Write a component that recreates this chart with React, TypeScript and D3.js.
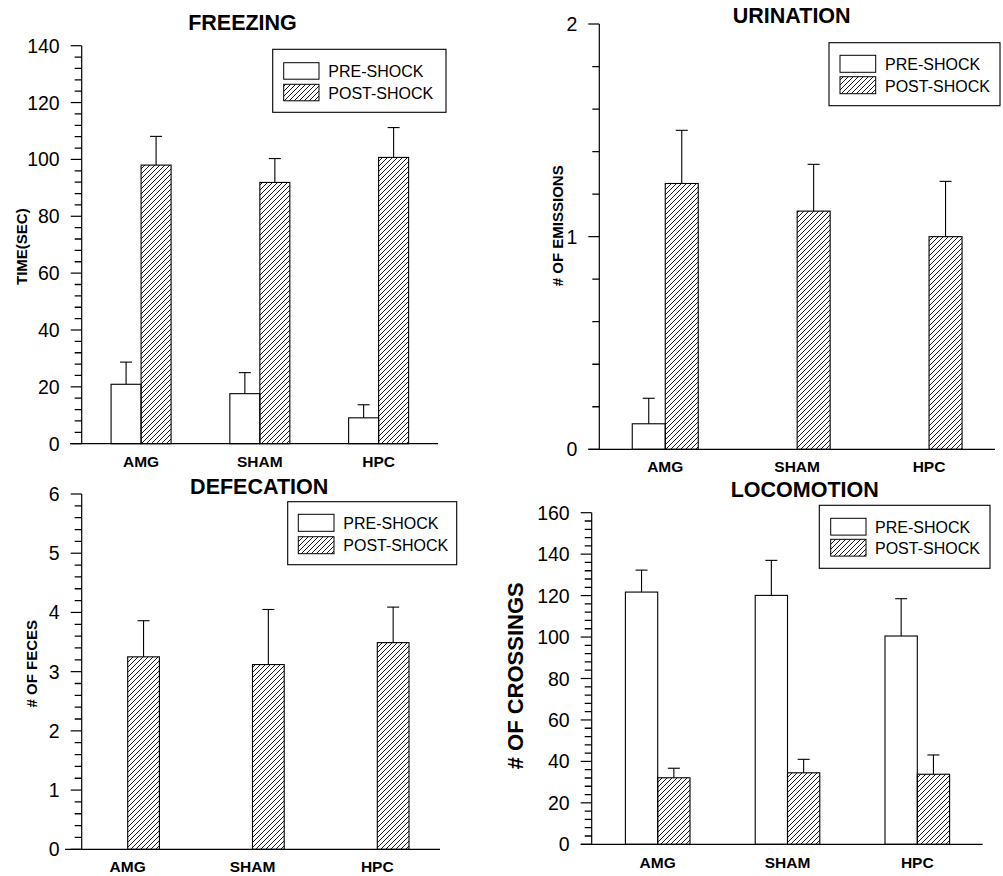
import React from "react";
import * as d3 from "d3";

const categories = ["AMG", "SHAM", "HPC"];
const seriesNames = ["PRE-SHOCK", "POST-SHOCK"];

const freezingPre = [20.9, 17.6, 9.1];
const freezingPreSem = [7.8, 7.4, 4.6];
const freezingPost = [98.0, 91.9, 100.7];
const freezingPostSem = [10.1, 8.4, 10.5];

const urinationPre = [0.12, 0, 0];
const urinationPreSem = [0.12, 0, 0];
const urinationPost = [1.25, 1.12, 1.0];
const urinationPostSem = [0.25, 0.22, 0.26];

const defecationPre = [0, 0, 0];
const defecationPreSem = [0, 0, 0];
const defecationPost = [3.25, 3.12, 3.49];
const defecationPostSem = [0.61, 0.93, 0.6];

const locomotionPre = [121.7, 120.1, 100.5];
const locomotionPreSem = [10.6, 16.9, 18.0];
const locomotionPost = [32.1, 34.5, 33.8];
const locomotionPostSem = [4.6, 6.5, 9.3];

const FONT = "'Liberation Sans', Arial, Helvetica, sans-serif";

type PanelCfg = {
  title: string;
  yLabel: string;
  pre: number[];
  preSem: number[];
  post: number[];
  postSem: number[];
  yMax: number;
  major: number;
  minor: number;
  axisX: number;
  yTop: number;
  yBottom: number;
  band: [number, number];
  xLine: [number, number];
  barW: number;
  titleX: number;
  titleY: number;
  yLabX: number;
  yLabY: number;
  yLabSize: number;
  xLabY: number;
  legend: { x0: number; y0: number; x1: number; y1: number; sx: number; sw: number; preY: number; postY: number; sh: number; tx: number; preB: number; postB: number };
};

const panels: PanelCfg[] = [
  {
    title: "FREEZING", yLabel: "TIME(SEC)",
    pre: freezingPre, preSem: freezingPreSem, post: freezingPost, postSem: freezingPostSem,
    yMax: 140, major: 20, minor: 4,
    axisX: 81.7, yTop: 45.7, yBottom: 443.7, band: [81.7, 438], xLine: [70, 438], barW: 30,
    titleX: 242.5, titleY: 30, yLabX: 26.7, yLabY: 246.7, yLabSize: 15, xLabY: 466.7,
    legend: { x0: 272.7, y0: 49.3, x1: 446, y1: 112.3, sx: 283.7, sw: 35.3, preY: 62.7, postY: 84.3, sh: 16.5, tx: 328.3, preB: 77.3, postB: 99 },
  },
  {
    title: "URINATION", yLabel: "# OF EMISSIONS",
    pre: urinationPre, preSem: urinationPreSem, post: urinationPost, postSem: urinationPostSem,
    yMax: 2, major: 1, minor: 0.2,
    axisX: 599.3, yTop: 24, yBottom: 449.3, band: [599.3, 995], xLine: [588.3, 995], barW: 33,
    titleX: 791.7, titleY: 22.7, yLabX: 563.3, yLabY: 225.8, yLabSize: 15, xLabY: 472.3,
    legend: { x0: 829, y0: 42.7, x1: 1000, y1: 105.7, sx: 840, sw: 35.7, preY: 55.3, postY: 76.7, sh: 17, tx: 885, preB: 70, postB: 91.7 },
  },
  {
    title: "DEFECATION", yLabel: "# OF FECES",
    pre: defecationPre, preSem: defecationPreSem, post: defecationPost, postSem: defecationPostSem,
    yMax: 6, major: 1, minor: 0.2,
    axisX: 81.7, yTop: 494, yBottom: 849.3, band: [65.3, 439.7], xLine: [65, 440], barW: 31.7,
    titleX: 259.2, titleY: 494, yLabX: 37.3, yLabY: 663.7, yLabSize: 15, xLabY: 871.7,
    legend: { x0: 287.7, y0: 501.7, x1: 456.7, y1: 564.7, sx: 298.3, sw: 35.7, preY: 514.3, postY: 536.7, sh: 17, tx: 343.3, preB: 529.3, postB: 550.7 },
  },
  {
    title: "LOCOMOTION", yLabel: "# OF CROSSINGS",
    pre: locomotionPre, preSem: locomotionPreSem, post: locomotionPost, postSem: locomotionPostSem,
    yMax: 160, major: 20, minor: 4,
    axisX: 591.7, yTop: 512.7, yBottom: 844.3, band: [592.8, 982.2], xLine: [580.7, 982.7], barW: 32.3,
    titleX: 804.7, titleY: 496.7, yLabX: 522.7, yLabY: 675.8, yLabSize: 22, xLabY: 868.3,
    legend: { x0: 819.3, y0: 505.3, x1: 990, y1: 568.3, sx: 830.7, sw: 35.3, preY: 518.3, postY: 539.3, sh: 16.8, tx: 875, preB: 532.7, postB: 554 },
  },
];

function Panel({ cfg, idx }: { cfg: PanelCfg; idx: number }) {
  const y = d3.scaleLinear().domain([0, cfg.yMax]).range([cfg.yBottom, cfg.yTop]);
  const x = d3.scaleBand<string>().domain(categories).range(cfg.band).padding(0);
  const inner = d3.scaleBand<string>().domain(["pre", "post"]).range([-cfg.barW, cfg.barW]);
  const nMajor = Math.round(cfg.yMax / cfg.major);
  const nMinor = Math.round(cfg.yMax / cfg.minor);
  const majors = d3.range(nMajor + 1).map((i) => i * cfg.major);
  const perMajor = Math.round(cfg.major / cfg.minor);
  const minors = d3.range(nMinor + 1).filter((i) => i % perMajor !== 0).map((i) => i * cfg.minor);
  const fmt = d3.format("d");
  const patId = `hatch${idx}`;
  const L = cfg.legend;
  const series = [
    { key: "pre", vals: cfg.pre, sem: cfg.preSem, fill: "#fff" },
    { key: "post", vals: cfg.post, sem: cfg.postSem, fill: `url(#${patId})` },
  ];
  const minorPath = minors.map((v) => `M${cfg.axisX - 7},${y(v)}H${cfg.axisX}`).join("");
  return (
    <g>
      <defs>
        <pattern id={patId} patternUnits="userSpaceOnUse" width={5} height={5}>
          <path d="M0,5 L5,0 M-1,1 L1,-1 M4,6 L6,4" stroke="#000" strokeWidth={0.9} />
        </pattern>
      </defs>
      <text x={cfg.titleX} y={cfg.titleY} textAnchor="middle" fontFamily={FONT} fontWeight="bold" fontSize={21.5}>{cfg.title}</text>
      {/* y axis */}
      <path d={minorPath} stroke="#000" strokeWidth={1.3} fill="none" />
      <line x1={cfg.axisX} x2={cfg.axisX} y1={cfg.yTop} y2={cfg.yBottom} stroke="#000" strokeWidth={1.2} />
      {majors.map((v) => (
        <g key={"M" + v}>
          <line x1={cfg.axisX - 11} x2={cfg.axisX} y1={y(v)} y2={y(v)} stroke="#000" strokeWidth={1.2} />
          <text x={cfg.axisX - 22} y={y(v) + 7} textAnchor="end" fontFamily={FONT} fontSize={19.5}>{fmt(v)}</text>
        </g>
      ))}
      <text transform={`translate(${cfg.yLabX},${cfg.yLabY}) rotate(-90)`} textAnchor="middle" fontFamily={FONT} fontWeight="bold" fontSize={cfg.yLabSize}>{cfg.yLabel}</text>
      {/* bars */}
      {series.map((s) =>
        categories.map((c, i) => {
          const cx = (x(c) as number) + x.bandwidth() / 2;
          const bx = cx + (inner(s.key) as number);
          const top = y(s.vals[i]);
          const ex = bx + inner.bandwidth() / 2;
          return (
            <g key={s.key + c}>
              <rect x={bx} y={top} width={inner.bandwidth()} height={cfg.yBottom - top} fill={s.fill} stroke="#000" strokeWidth={1.1} />
              {s.sem[i] > 0 && (
                <g stroke="#000" strokeWidth={1.1}>
                  <line x1={ex} x2={ex} y1={top} y2={y(s.vals[i] + s.sem[i])} />
                  <line x1={ex - 6} x2={ex + 6} y1={y(s.vals[i] + s.sem[i])} y2={y(s.vals[i] + s.sem[i])} />
                </g>
              )}
            </g>
          );
        })
      )}
      {/* x axis */}
      <line x1={cfg.xLine[0]} x2={cfg.xLine[1]} y1={cfg.yBottom} y2={cfg.yBottom} stroke="#000" strokeWidth={1.2} />
      {categories.map((c) => (
        <text key={c} x={(x(c) as number) + x.bandwidth() / 2} y={cfg.xLabY} textAnchor="middle" fontFamily={FONT} fontWeight="bold" fontSize={15.5}>{c}</text>
      ))}
      {/* legend */}
      <rect x={L.x0} y={L.y0} width={L.x1 - L.x0} height={L.y1 - L.y0} fill="#fff" stroke="#000" strokeWidth={1.1} />
      <rect x={L.sx} y={L.preY} width={L.sw} height={L.sh} fill="#fff" stroke="#000" strokeWidth={1} />
      <rect x={L.sx} y={L.postY} width={L.sw} height={L.sh} fill={`url(#${patId})`} stroke="#000" strokeWidth={1} />
      <text x={L.tx} y={L.preB} fontFamily={FONT} fontSize={16}>{seriesNames[0]}</text>
      <text x={L.tx} y={L.postB} fontFamily={FONT} fontSize={16}>{seriesNames[1]}</text>
    </g>
  );
}

export default function App() {
  return (
    <svg width={1003} height={876} style={{ position: "absolute", left: 0, top: 0, background: "#fff" }}>
      <rect width={1003} height={876} fill="#fff" />
      {panels.map((p, i) => (
        <Panel key={p.title} cfg={p} idx={i} />
      ))}
    </svg>
  );
}
